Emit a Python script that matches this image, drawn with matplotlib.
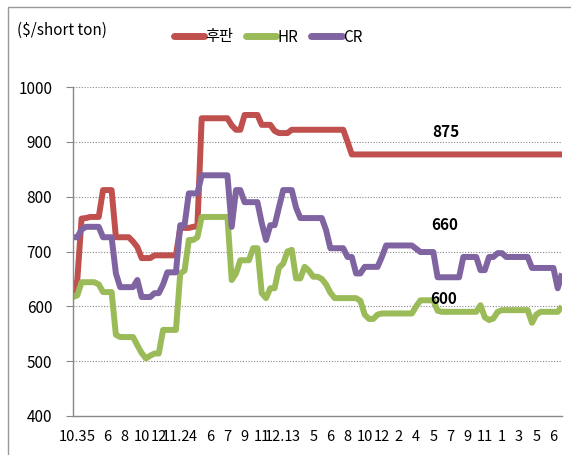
import matplotlib
matplotlib.use('Agg')
import matplotlib.pyplot as plt
from matplotlib.patches import Rectangle
from matplotlib.lines import Line2D
import numpy as np

plt.rcParams['font.family'] = ['Noto Sans CJK KR', 'DejaVu Sans']

# 주간 가격 ($/short ton), 2010.3 ~ 2014.6
plate = [625, 648, 760, 761, 763, 763, 763, 812, 812, 812,
         726, 726, 726, 726, 718, 708, 688, 688, 688, 693,
         693, 693, 693, 693, 693, 743, 743, 743, 745, 746,
         943, 943, 943, 943, 943, 943, 943, 930, 922, 922,
         949, 949, 949, 949, 931, 931, 931, 920, 916, 916,
         916, 922, 922, 922, 922, 922, 922, 922, 922, 922,
         922, 922, 922, 922, 900, 877, 877, 877, 877, 877,
         877, 877, 877, 877, 877, 877, 877, 877, 877, 877,
         877, 877, 877, 877, 877, 877, 877, 877, 877, 877,
         877, 877, 877, 877, 877, 877, 877, 877, 877, 877,
         877, 877, 877, 877, 877, 877, 877, 877, 877, 877,
         877, 877, 877, 877, 877]
hr = [617, 620, 644, 644, 644, 644, 640, 626, 626, 626,
      548, 544, 544, 544, 544, 529, 515, 505, 510, 514,
      514, 557, 557, 557, 557, 660, 665, 721, 721, 726,
      763, 763, 763, 763, 763, 763, 763, 648, 660, 684,
      684, 684, 706, 706, 624, 615, 633, 633, 670, 678,
      700, 703, 651, 651, 672, 665, 654, 654, 650, 640,
      625, 615, 615, 615, 615, 615, 615, 610, 585, 577,
      577, 585, 587, 587, 587, 587, 587, 587, 587, 587,
      600, 611, 611, 611, 611, 592, 590, 590, 590, 590,
      590, 590, 590, 590, 590, 602, 580, 575, 578, 590,
      593, 593, 593, 593, 593, 593, 593, 570, 585, 590,
      590, 590, 590, 590, 600]
cr = [726, 726, 740, 745, 745, 745, 745, 726, 726, 726,
      660, 635, 635, 635, 635, 648, 617, 617, 617, 624,
      624, 640, 662, 662, 662, 748, 748, 806, 806, 806,
      839, 839, 839, 839, 839, 839, 839, 745, 812, 812,
      790, 790, 790, 790, 752, 721, 748, 748, 780, 812,
      812, 812, 780, 761, 761, 761, 761, 761, 761, 739,
      706, 706, 706, 706, 690, 690, 660, 660, 672, 672,
      672, 672, 690, 711, 711, 711, 711, 711, 711, 711,
      705, 699, 699, 699, 699, 653, 653, 653, 653, 653,
      653, 690, 690, 690, 690, 666, 666, 690, 690, 697,
      697, 690, 690, 690, 690, 690, 690, 670, 670, 670,
      670, 670, 670, 633, 660]

tick_labels = ['10.3', '5', '6', '8', '10', '12', '11.2', '4', '6', '7', '9', '11',
               '12.1', '3', '5', '6', '8', '10', '12', '2', '4', '5', '7', '9', '11',
               '1', '3', '5', '6']
series_names = ['후판', 'HR', 'CR']
last_values = ['875', '660', '600']

colors = ['#C0504D', '#9BBB59', '#8064A2']

fig = plt.figure(figsize=(5.71, 4.55), dpi=100)
ax = fig.add_axes([73 / 571, 1 - 416 / 455, 489 / 571, 329 / 455])

for data, c in zip([plate, hr, cr], colors):
    ax.plot(np.arange(len(data)), data, color=c, lw=4.3, solid_joinstyle='round',
            solid_capstyle='butt')

ax.set_xlim(0, len(plate) - 1)
ax.set_ylim(400, 1000)
ax.set_yticks(range(400, 1001, 100))
ax.tick_params(axis='y', labelsize=11, length=5, color='#888888', pad=10)
ax.set_xticks(range(0, len(plate), 4))
ax.set_xticklabels(tick_labels, fontsize=10.5)
ax.tick_params(axis='x', length=0, pad=10)

for v in range(500, 1001, 100):
    ax.axhline(v, color='#888888', lw=0.8, ls=(0, (1, 1.5)), zorder=0)

for s in ['top', 'right']:
    ax.spines[s].set_visible(False)
for s in ['left', 'bottom']:
    ax.spines[s].set_color('#888888')
    ax.spines[s].set_linewidth(1)

# 마지막 값 표시
ax.text(87, 918, last_values[0], ha='center', va='center', fontsize=11, fontweight='bold')
ax.text(86.7, 748, last_values[1], ha='center', va='center', fontsize=11, fontweight='bold')
ax.text(86.5, 613, last_values[2], ha='center', va='center', fontsize=11, fontweight='bold')

fig.text(17 / 571, 1 - 30 / 455, '($/short ton)', fontsize=11, va='center', ha='left')

handles = [Line2D([0], [0], color=c, lw=5, solid_capstyle='round') for c in colors]
fig.legend(handles, series_names, loc='center', bbox_to_anchor=(268 / 571, 1 - 37 / 455),
           ncol=3, frameon=False, fontsize=11, handlelength=2.0, handletextpad=0.1,
           columnspacing=0.8)

fig.patches.append(Rectangle((8 / 571, -0.1), 2, 1.1 - 7 / 455, transform=fig.transFigure,
                             fill=False, edgecolor='#999999', lw=1))

fig.savefig('out.png', dpi=100)
